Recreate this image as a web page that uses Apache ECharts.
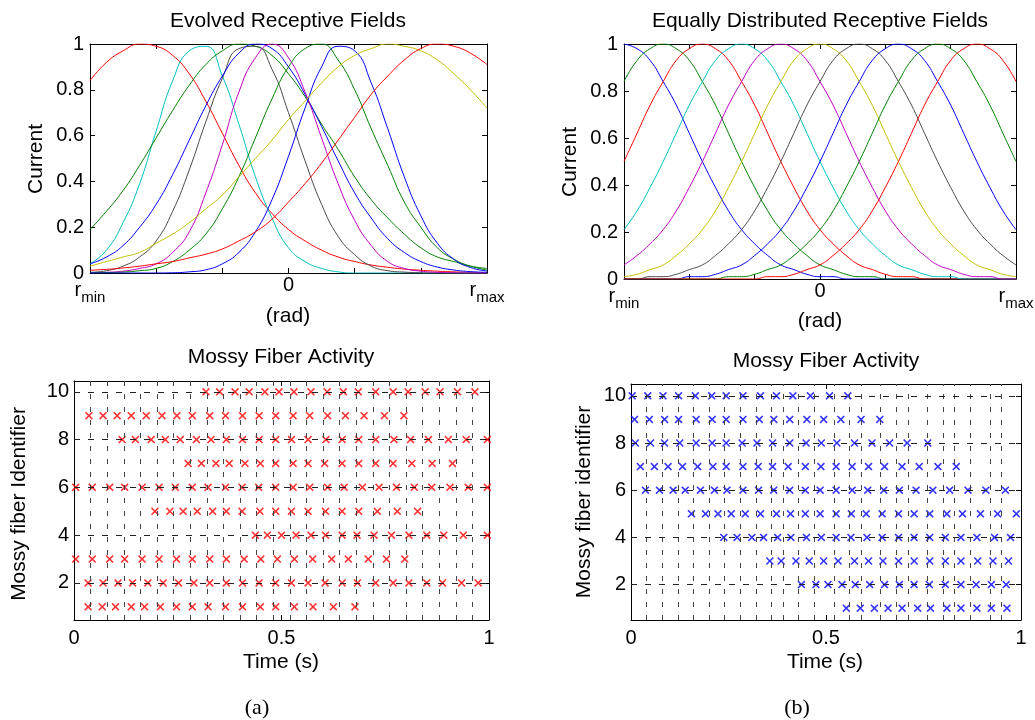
<!DOCTYPE html>
<html>
<head>
<meta charset="utf-8">
<title>Receptive fields and mossy fiber activity</title>
<script src="https://cdn.jsdelivr.net/npm/echarts@6/dist/echarts.min.js"></script>
<style>
    html, body { margin: 0; padding: 0; background: #fff; }
    #main { width: 1035px; height: 720px; }
</style>
</head>
<body>
<div id="main"></div>
<script>
// ---- receptive fields: sample positions (r_min = -3, r_max = 3) ----
var rfX = [-3, -2.75, -2.5, -2.25, -2, -1.75, -1.5, -1.25, -1, -0.75, -0.5, -0.25, 0,
    0.25, 0.5, 0.75, 1, 1.25, 1.5, 1.75, 2, 2.25, 2.5, 2.75, 3];
var eqX = [-3, -2.8, -2.6, -2.4, -2.2, -2, -1.8, -1.6, -1.4, -1.2, -1, -0.8, -0.6, -0.4, -0.2, 0,
    0.2, 0.4, 0.6, 0.8, 1, 1.2, 1.4, 1.6, 1.8, 2, 2.2, 2.4, 2.6, 2.8, 3];

// evolved fields (panel a, top)
var evRed1 = [0.84, 0.92, 0.97, 1.00, 0.99, 0.95, 0.87, 0.75, 0.61, 0.47, 0.35, 0.26, 0.19, 0.14, 0.10, 0.07, 0.05, 0.035, 0.025, 0.017, 0.012, 0.008, 0.005, 0.003, 0.002];
var evCyan = [0.04, 0.10, 0.22, 0.39, 0.62, 0.84, 0.97, 0.99, 0.86, 0.65, 0.42, 0.24, 0.11, 0.05, 0.02, 0.005, 0, 0, 0, 0, 0, 0, 0, 0, 0];
var evGreen1 = [0.19, 0.27, 0.36, 0.47, 0.59, 0.71, 0.82, 0.91, 0.97, 1.00, 0.99, 0.95, 0.87, 0.77, 0.65, 0.54, 0.42, 0.32, 0.24, 0.17, 0.11, 0.07, 0.05, 0.03, 0.02];
var evBlack = [0.003, 0.01, 0.03, 0.07, 0.14, 0.27, 0.45, 0.66, 0.85, 0.98, 0.99, 0.89, 0.70, 0.49, 0.30, 0.16, 0.08, 0.03, 0.01, 0.004, 0.001, 0, 0, 0, 0];
var evBlue1 = [0.04, 0.07, 0.12, 0.20, 0.30, 0.43, 0.58, 0.73, 0.86, 0.96, 1.00, 0.98, 0.90, 0.78, 0.64, 0.49, 0.35, 0.24, 0.15, 0.09, 0.05, 0.026, 0.013, 0.006, 0.003];
var evMagenta = [0.001, 0.003, 0.008, 0.02, 0.04, 0.09, 0.18, 0.35, 0.56, 0.79, 0.94, 1.00, 0.94, 0.79, 0.59, 0.39, 0.23, 0.12, 0.05, 0.02, 0.008, 0.003, 0.001, 0, 0];
var evGreen2 = [0.001, 0.002, 0.004, 0.01, 0.02, 0.05, 0.10, 0.17, 0.28, 0.42, 0.59, 0.76, 0.90, 0.98, 1.00, 0.93, 0.80, 0.63, 0.47, 0.31, 0.20, 0.11, 0.06, 0.03, 0.013];
var evBlue2 = [0, 0, 0, 0, 0, 0.001, 0.005, 0.014, 0.04, 0.09, 0.18, 0.32, 0.51, 0.72, 0.90, 0.99, 0.97, 0.83, 0.63, 0.42, 0.25, 0.13, 0.06, 0.024, 0.009];
var evYellow = [0.03, 0.05, 0.07, 0.09, 0.13, 0.17, 0.22, 0.28, 0.34, 0.42, 0.50, 0.58, 0.67, 0.75, 0.83, 0.90, 0.95, 0.98, 1.00, 0.99, 0.97, 0.93, 0.87, 0.80, 0.72];
var evRed2 = [0.012, 0.016, 0.022, 0.03, 0.04, 0.05, 0.066, 0.082, 0.105, 0.14, 0.18, 0.235, 0.31, 0.39, 0.48, 0.58, 0.68, 0.78, 0.86, 0.93, 0.98, 1.00, 0.99, 0.96, 0.91];

// equally distributed fields (panel b, top)
var eqBlue1 = [1.00, 0.98, 0.93, 0.84, 0.74, 0.62, 0.50, 0.39, 0.29, 0.21, 0.15, 0.10, 0.06, 0.04, 0.02, 0.01, 0.01, 0, 0, 0, 0, 0, 0, 0, 0, 0, 0, 0, 0, 0, 0];
var eqGreen1 = [0.84, 0.93, 0.98, 1.00, 0.98, 0.93, 0.84, 0.74, 0.62, 0.50, 0.39, 0.29, 0.21, 0.15, 0.10, 0.06, 0.04, 0.02, 0.01, 0.01, 0, 0, 0, 0, 0, 0, 0, 0, 0, 0, 0];
var eqRed1 = [0.50, 0.62, 0.74, 0.84, 0.93, 0.98, 1.00, 0.98, 0.93, 0.84, 0.74, 0.62, 0.50, 0.39, 0.29, 0.21, 0.15, 0.10, 0.06, 0.04, 0.02, 0.01, 0.01, 0, 0, 0, 0, 0, 0, 0, 0];
var eqCyan = [0.21, 0.29, 0.39, 0.50, 0.62, 0.74, 0.84, 0.93, 0.98, 1.00, 0.98, 0.93, 0.84, 0.74, 0.62, 0.50, 0.39, 0.29, 0.21, 0.15, 0.10, 0.06, 0.04, 0.02, 0.01, 0.01, 0, 0, 0, 0, 0];
var eqMagenta = [0.06, 0.10, 0.15, 0.21, 0.29, 0.39, 0.50, 0.62, 0.74, 0.84, 0.93, 0.98, 1.00, 0.98, 0.93, 0.84, 0.74, 0.62, 0.50, 0.39, 0.29, 0.21, 0.15, 0.10, 0.06, 0.04, 0.02, 0.01, 0.01, 0, 0];
var eqYellow = [0.01, 0.02, 0.04, 0.06, 0.10, 0.15, 0.21, 0.29, 0.39, 0.50, 0.62, 0.74, 0.84, 0.93, 0.98, 1.00, 0.98, 0.93, 0.84, 0.74, 0.62, 0.50, 0.39, 0.29, 0.21, 0.15, 0.10, 0.06, 0.04, 0.02, 0.01];
var eqBlack = [0, 0, 0.01, 0.01, 0.02, 0.04, 0.06, 0.10, 0.15, 0.21, 0.29, 0.39, 0.50, 0.62, 0.74, 0.84, 0.93, 0.98, 1.00, 0.98, 0.93, 0.84, 0.74, 0.62, 0.50, 0.39, 0.29, 0.21, 0.15, 0.10, 0.06];
var eqBlue2 = [0, 0, 0, 0, 0, 0.01, 0.01, 0.02, 0.04, 0.06, 0.10, 0.15, 0.21, 0.29, 0.39, 0.50, 0.62, 0.74, 0.84, 0.93, 0.98, 1.00, 0.98, 0.93, 0.84, 0.74, 0.62, 0.50, 0.39, 0.29, 0.21];
var eqGreen2 = [0, 0, 0, 0, 0, 0, 0, 0, 0.01, 0.01, 0.02, 0.04, 0.06, 0.10, 0.15, 0.21, 0.29, 0.39, 0.50, 0.62, 0.74, 0.84, 0.93, 0.98, 1.00, 0.98, 0.93, 0.84, 0.74, 0.62, 0.50];
var eqRed2 = [0, 0, 0, 0, 0, 0, 0, 0, 0, 0, 0, 0.01, 0.01, 0.02, 0.04, 0.06, 0.10, 0.15, 0.21, 0.29, 0.39, 0.50, 0.62, 0.74, 0.84, 0.93, 0.98, 1.00, 0.98, 0.93, 0.84];

// ---- mossy fiber spike times (s), one array per fiber ----
var spikesA1 = [0.034, 0.068, 0.100, 0.138, 0.170, 0.208, 0.247, 0.285, 0.323, 0.365, 0.406, 0.449, 0.486, 0.531, 0.576, 0.625, 0.677];
var spikesA2 = [0.034, 0.070, 0.106, 0.141, 0.178, 0.215, 0.252, 0.289, 0.327, 0.367, 0.406, 0.446, 0.486, 0.524, 0.564, 0.605, 0.646, 0.683, 0.727, 0.769, 0.807, 0.850, 0.888, 0.934, 0.974];
var spikesA3 = [0.004, 0.044, 0.086, 0.122, 0.164, 0.205, 0.247, 0.285, 0.327, 0.367, 0.410, 0.450, 0.490, 0.531, 0.575, 0.621, 0.661, 0.709, 0.753, 0.797];
var spikesA4 = [0.437, 0.466, 0.500, 0.535, 0.571, 0.606, 0.646, 0.682, 0.723, 0.765, 0.807, 0.850, 0.891, 0.938, 0.996];
var spikesA5 = [0.195, 0.231, 0.263, 0.297, 0.334, 0.367, 0.405, 0.448, 0.486, 0.524, 0.564, 0.606, 0.646, 0.686, 0.731, 0.779, 0.828];
var spikesA6 = [0.004, 0.044, 0.086, 0.122, 0.164, 0.205, 0.244, 0.285, 0.323, 0.365, 0.405, 0.445, 0.486, 0.528, 0.568, 0.611, 0.651, 0.695, 0.735, 0.777, 0.820, 0.862, 0.906, 0.950, 0.996];
var spikesA7 = [0.275, 0.307, 0.342, 0.374, 0.412, 0.449, 0.486, 0.528, 0.564, 0.604, 0.646, 0.686, 0.727, 0.769, 0.814, 0.863, 0.912];
var spikesA8 = [0.116, 0.148, 0.186, 0.220, 0.256, 0.295, 0.330, 0.367, 0.406, 0.446, 0.486, 0.524, 0.564, 0.607, 0.646, 0.686, 0.727, 0.771, 0.811, 0.854, 0.902, 0.945, 0.996];
var spikesA9 = [0.036, 0.070, 0.104, 0.138, 0.174, 0.212, 0.248, 0.285, 0.327, 0.365, 0.406, 0.446, 0.486, 0.528, 0.568, 0.611, 0.654, 0.699, 0.748, 0.795];
var spikesA10 = [0.318, 0.351, 0.388, 0.422, 0.460, 0.494, 0.530, 0.571, 0.610, 0.649, 0.685, 0.727, 0.769, 0.805, 0.846, 0.882, 0.924, 0.966];

var spikesB1 = [0.552, 0.588, 0.624, 0.659, 0.695, 0.735, 0.768, 0.810, 0.846, 0.887, 0.924, 0.964];
var spikesB2 = [0.437, 0.474, 0.505, 0.541, 0.575, 0.612, 0.650, 0.688, 0.726, 0.765, 0.806, 0.846, 0.885, 0.924, 0.962];
var spikesB3 = [0.356, 0.385, 0.423, 0.457, 0.494, 0.531, 0.573, 0.609, 0.646, 0.686, 0.726, 0.766, 0.806, 0.846, 0.889, 0.928, 0.968];
var spikesB4 = [0.238, 0.272, 0.310, 0.340, 0.376, 0.410, 0.450, 0.488, 0.526, 0.564, 0.605, 0.644, 0.686, 0.726, 0.766, 0.806, 0.846, 0.887, 0.932, 0.973];
var spikesB5 = [0.155, 0.191, 0.223, 0.257, 0.293, 0.332, 0.373, 0.409, 0.447, 0.485, 0.526, 0.565, 0.603, 0.644, 0.686, 0.726, 0.766, 0.810, 0.850, 0.896, 0.940, 0.988];
var spikesB6 = [0.037, 0.073, 0.108, 0.139, 0.178, 0.214, 0.246, 0.287, 0.327, 0.366, 0.407, 0.447, 0.485, 0.526, 0.567, 0.607, 0.648, 0.688, 0.731, 0.774, 0.817, 0.864, 0.910, 0.960];
var spikesB7 = [0.024, 0.060, 0.095, 0.132, 0.171, 0.210, 0.244, 0.287, 0.326, 0.363, 0.403, 0.447, 0.487, 0.526, 0.567, 0.609, 0.650, 0.695, 0.739, 0.787, 0.834];
var spikesB8 = [0.011, 0.050, 0.086, 0.125, 0.167, 0.208, 0.244, 0.285, 0.323, 0.363, 0.407, 0.449, 0.488, 0.528, 0.573, 0.618, 0.663, 0.708, 0.761];
var spikesB9 = [0.009, 0.047, 0.086, 0.122, 0.167, 0.208, 0.244, 0.287, 0.329, 0.366, 0.407, 0.451, 0.494, 0.538, 0.590, 0.638];
var spikesB10 = [0.003, 0.043, 0.082, 0.122, 0.165, 0.207, 0.244, 0.287, 0.332, 0.373, 0.415, 0.460, 0.509, 0.556];

// dashed vertical reference times and the fiber grid rows
var stepTimesA = [0.036, 0.076, 0.118, 0.158, 0.199, 0.239, 0.277, 0.318, 0.358, 0.398, 0.438, 0.478, 0.518, 0.559, 0.599, 0.639, 0.679, 0.719, 0.759, 0.800, 0.840, 0.880, 0.920, 0.960];
var stepTimesB = [0.041, 0.079, 0.120, 0.159, 0.197, 0.238, 0.276, 0.316, 0.356, 0.394, 0.434, 0.474, 0.515, 0.556, 0.595, 0.635, 0.675, 0.715, 0.755, 0.795, 0.834, 0.874, 0.915, 0.954];
var fiberTicks = [2, 4, 6, 8, 10];

// ---- styles ----
var FONT = 'Liberation Sans';
var C = { b: '#0000ff', g: '#008000', r: '#ff0000', c: '#00bfbf', m: '#bf00bf', y: '#bfbf00', k: '#4a4a4a' };
var evolved = [[evRed1, C.r], [evCyan, C.c], [evGreen1, C.g], [evBlack, C.k], [evBlue1, C.b],
    [evMagenta, C.m], [evGreen2, C.g], [evBlue2, C.b], [evYellow, C.y], [evRed2, C.r]];
var equal = [[eqBlue1, C.b], [eqGreen1, C.g], [eqRed1, C.r], [eqCyan, C.c], [eqMagenta, C.m],
    [eqYellow, C.y], [eqBlack, C.k], [eqBlue2, C.b], [eqGreen2, C.g], [eqRed2, C.r]];
var rowsA = [spikesA1, spikesA2, spikesA3, spikesA4, spikesA5, spikesA6, spikesA7, spikesA8, spikesA9, spikesA10];
var rowsB = [spikesB1, spikesB2, spikesB3, spikesB4, spikesB5, spikesB6, spikesB7, spikesB8, spikesB9, spikesB10];

// filled "x" marker
var CROSS = 'path://M0,1.4L1.4,0L5,3.6L8.6,0L10,1.4L6.4,5L10,8.6L8.6,10L5,6.4L1.4,10L0,8.6L3.6,5Z';

function pairs(xs, ys) {
    var out = [];
    for (var i = 0; i < xs.length; i++) out.push([xs[i], ys[i]]);
    return out;
}

function rLabel(v) {
    if (v === -3) return '{r|r}{s|min}';
    if (v === 3) return '{r|r}{s|max}';
    if (v === 0) return '{r|0}';
    return '';
}

var labelRich = {
    r: { fontSize: 20, fontFamily: FONT, color: '#000' },
    s: { fontSize: 15, fontFamily: FONT, color: '#000', padding: [15, 0, 0, 0] }
};

// one pair of x axes and y axes per panel: the second of each pair closes the box
function xAxes(grid, min, max, interval, label) {
    var base = {
        gridIndex: grid, type: 'value', min: min, max: max, interval: interval,
        axisLine: { onZero: false, lineStyle: { color: '#000', width: 1 } },
        axisTick: { inside: true, length: 5, lineStyle: { color: '#000' } },
        splitLine: { show: false }
    };
    var bottom = Object.assign({}, base, { position: 'bottom', axisLabel: label });
    var top = Object.assign({}, base, { position: 'top', axisLabel: { show: false } });
    return [bottom, top];
}

function yAxes(grid, min, max, interval, label, ticks) {
    var tick = { inside: true, length: 5, lineStyle: { color: '#000' } };
    if (ticks) tick.customValues = ticks;
    var base = {
        gridIndex: grid, type: 'value', min: min, max: max,
        axisLine: { onZero: false, lineStyle: { color: '#000', width: 1 } },
        axisTick: tick,
        splitLine: { show: false }
    };
    if (interval) base.interval = interval;
    var left = Object.assign({}, base, { position: 'left', axisLabel: label });
    var right = Object.assign({}, base, { position: 'right', axisLabel: { show: false } });
    return [left, right];
}

var numLabel = { color: '#000', fontSize: 20, fontFamily: FONT, margin: 8 };
var rfXLabel = { color: '#000', fontSize: 20, fontFamily: FONT, margin: 2, interval: 0,
    showMinLabel: true, showMaxLabel: true, formatter: rLabel, rich: labelRich };
var rfYLabel = { color: '#000', fontSize: 20, fontFamily: FONT, margin: 6 };
var fiberLabel = { color: '#000', fontSize: 20, fontFamily: FONT, margin: 5, customValues: fiberTicks };

var xAxis = [].concat(
    xAxes(0, -3, 3, 1, rfXLabel),
    xAxes(1, -3, 3, 1, rfXLabel),
    xAxes(2, 0, 1, 0.5, Object.assign({ showMinLabel: true, showMaxLabel: true }, numLabel)),
    xAxes(3, 0, 1, 0.5, Object.assign({ showMinLabel: true, showMaxLabel: true }, numLabel))
);
var yAxis = [].concat(
    yAxes(0, 0, 1, 0.2, rfYLabel),
    yAxes(1, 0, 1, 0.2, rfYLabel),
    yAxes(2, 0.45, 10.45, null, fiberLabel, fiberTicks),
    yAxes(3, 0.5, 10.5, null, fiberLabel, fiberTicks)
);

var series = [];

function addCurves(list, xs, panel) {
    list.forEach(function (item) {
        series.push({
            type: 'line', xAxisIndex: panel * 2, yAxisIndex: panel * 2,
            data: pairs(xs, item[0]), smooth: 0.5, showSymbol: false, symbol: 'none',
            lineStyle: { color: item[1], width: 1 }, silent: true
        });
    });
}
addCurves(evolved, rfX, 0);
addCurves(equal, eqX, 1);

function addRaster(rows, panel, color, steps) {
    // dashed reference lines behind the spikes
    var marks = steps.map(function (t) {
        return { xAxis: t, lineStyle: { color: '#444', width: 1, type: [5, 8] } };
    }).concat(fiberTicks.map(function (v) {
        return { yAxis: v, lineStyle: { color: '#222', width: 1, type: [6, 8] } };
    }));
    series.push({
        type: 'line', xAxisIndex: panel * 2, yAxisIndex: panel * 2, data: [], z: 1,
        markLine: { silent: true, symbol: 'none', label: { show: false }, animation: false, data: marks }
    });
    rows.forEach(function (times, i) {
        series.push({
            type: 'scatter', xAxisIndex: panel * 2, yAxisIndex: panel * 2, z: 3,
            data: times.map(function (t) { return [t, i + 1]; }),
            symbol: CROSS, symbolSize: 8, itemStyle: { color: color }, silent: true
        });
    });
}
addRaster(rowsA, 2, C.r, stepTimesA);
addRaster(rowsB, 3, C.b, stepTimesB);

function txt(s, x, y, size, opts) {
    var style = {
        text: s, fontSize: size, fontFamily: (opts && opts.family) || FONT, fill: '#000',
        align: 'center', verticalAlign: 'middle', textAlign: 'center', textVerticalAlign: 'middle'
    };
    return { type: 'text', x: x, y: y, rotation: (opts && opts.rot) || 0, style: style, silent: true };
}

var graphic = [
    txt('Evolved Receptive Fields', 288, 21, 21),
    txt('Equally Distributed Receptive Fields', 820, 21, 21),
    txt('(rad)', 288, 316, 21),
    txt('(rad)', 820, 321, 21),
    txt('Current', 36, 159, 21, { rot: Math.PI / 2 }),
    txt('Current', 570, 162, 21, { rot: Math.PI / 2 }),
    txt('Mossy Fiber Activity', 281, 357, 21),
    txt('Mossy Fiber Activity', 826, 361, 21),
    txt('Mossy fiber Identifier', 19, 504, 21, { rot: Math.PI / 2 }),
    txt('Mossy fiber identifier', 584, 502, 21, { rot: Math.PI / 2 }),
    txt('Time (s)', 281, 662, 21),
    txt('Time (s)', 825, 662, 21),
    txt('(a)', 257, 708, 22, { family: 'Liberation Serif' }),
    txt('(b)', 797, 708, 22, { family: 'Liberation Serif' })
];

var myChart = echarts.init(document.getElementById('main'), null, { renderer: 'canvas' });
var option = {
    backgroundColor: '#fff',
    animation: false,
    grid: [
        { left: 90, top: 44, width: 397, height: 229, outerBoundsMode: 'none' },
        { left: 624, top: 44, width: 392, height: 235, outerBoundsMode: 'none' },
        { left: 74, top: 381, width: 415, height: 239, outerBoundsMode: 'none' },
        { left: 631, top: 384, width: 390, height: 236, outerBoundsMode: 'none' }
    ],
    xAxis: xAxis,
    yAxis: yAxis,
    series: series,
    graphic: graphic
};
myChart.setOption(option);
</script>
</body>
</html>
